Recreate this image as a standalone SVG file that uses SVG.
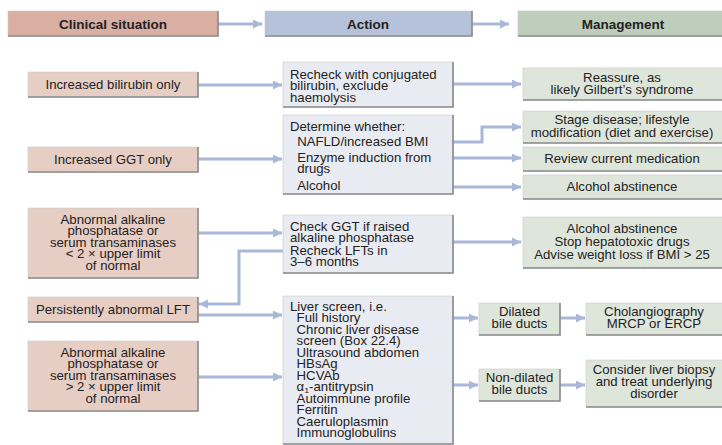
<svg xmlns="http://www.w3.org/2000/svg" width="722" height="445" viewBox="0 0 722 445">
<defs>
<marker id="ah" markerUnits="userSpaceOnUse" markerWidth="10" markerHeight="10" refX="9" refY="4.5" orient="auto">
<path d="M0,0 L9,4.5 L0,9 z" fill="#a9b8d8"/>
</marker>
</defs>
<style>
text{font-family:"Liberation Sans",Arial,sans-serif;font-size:12px;fill:#222}
.hd{font-weight:bold;font-size:13.5px;text-anchor:middle}
.c{text-anchor:middle}
.bx{stroke:#c9c9c9;stroke-width:0.6}
.sh{fill:none;stroke:#8a8a8a;stroke-width:1.6}
.cl{fill:#e7cec5}.clh{fill:#d9aea3}
.ac{fill:#e9ebf2}.ach{fill:#b5c2da}
.mg{fill:#dee6dc}.mgh{fill:#bfcdbb}
.ar{fill:none;stroke:#a9b8d8;stroke-width:3;marker-end:url(#ah)}
</style>
<rect width="722" height="445" fill="#ffffff"/>

<g id="connectors">
<path class="ar" d="M218,24 H262"/>
<path class="ar" d="M472,24 H509"/>
<path class="ar" d="M198,85 H282"/>
<path class="ar" d="M453,84 H521"/>
<path class="ar" d="M198,159 H282"/>
<path class="ar" d="M434,142 H482 V127 H521"/>
<path class="ar" d="M436,158 H521"/>
<path class="ar" d="M347,187 H521"/>
<path class="ar" d="M198,233 H282"/>
<path class="ar" d="M453,242 H521"/>
<path class="ar" d="M289,251 H239 V304 H199"/>
<path class="ar" d="M198,315 H282"/>
<path class="ar" d="M198,377 H282"/>
<path class="ar" d="M453,318 H478"/>
<path class="ar" d="M453,385 H478"/>
<path class="ar" d="M560,318 H585"/>
<path class="ar" d="M560,385 H585"/>
</g>

<g id="h-clinical">
<rect class="bx clh" x="8" y="11" width="210" height="25"/>
<path class="sh" d="M8,36 H218 V11"/>
<text class="hd" x="113" y="28.5">Clinical situation</text>
</g>
<g id="h-action">
<rect class="bx ach" x="265" y="11" width="207" height="25"/>
<path class="sh" d="M265,36 H472 V11"/>
<text class="hd" x="368" y="28.5">Action</text>
</g>
<g id="h-management">
<rect class="bx mgh" x="518" y="11" width="210" height="25"/>
<path class="sh" d="M518,36 H728"/>
<text class="hd" x="623" y="28.5">Management</text>
</g>

<g id="c-bilirubin">
<rect class="bx cl" x="28" y="72" width="170" height="25"/>
<path class="sh" d="M28,97 H198 V72"/>
<g transform="matrix(1.1,0,0,1,-11.3,0)">
<text class="c" x="113" y="89">Increased bilirubin only</text>
</g>
</g>
<g id="a-recheck">
<rect class="bx ac" x="283" y="62" width="170" height="45"/>
<path class="sh" d="M283,107 H453 V62"/>
<g transform="matrix(1.1,0,0,1,-29,0)">
<text x="290" y="79">Recheck with conjugated</text>
<text x="290" y="90.5">bilirubin, exclude</text>
<text x="290" y="102">haemolysis</text>
</g>
</g>
<g id="m-reassure">
<rect class="bx mg" x="523" y="68" width="205" height="32"/>
<path class="sh" d="M523,100 H728"/>
<g transform="matrix(1.1,0,0,1,-62.2,0)">
<text class="c" x="622" y="82">Reassure, as</text>
<text class="c" x="622" y="94">likely Gilbert’s syndrome</text>
</g>
</g>

<g id="c-ggt">
<rect class="bx cl" x="28" y="147" width="170" height="25"/>
<path class="sh" d="M28,172 H198 V147"/>
<g transform="matrix(1.1,0,0,1,-11.3,0)">
<text class="c" x="113" y="164">Increased GGT only</text>
</g>
</g>
<g id="a-determine">
<rect class="bx ac" x="283" y="115" width="170" height="79"/>
<path class="sh" d="M283,194 H453 V115"/>
<g transform="matrix(1.1,0,0,1,-29,0)">
<text x="290" y="131">Determine whether:</text>
<text x="296.5" y="146.5">NAFLD/increased BMI</text>
<text x="296.5" y="162">Enzyme induction from</text>
<text x="296.5" y="173">drugs</text>
<text x="296.5" y="190">Alcohol</text>
</g>
</g>
<g id="m-stage">
<rect class="bx mg" x="523" y="111" width="205" height="32"/>
<path class="sh" d="M523,143 H728"/>
<g transform="matrix(1.1,0,0,1,-62.2,0)">
<text class="c" x="622" y="124">Stage disease; lifestyle</text>
<text class="c" x="622" y="137">modification (diet and exercise)</text>
</g>
</g>
<g id="m-review">
<rect class="bx mg" x="523" y="147" width="205" height="24"/>
<path class="sh" d="M523,171 H728"/>
<g transform="matrix(1.1,0,0,1,-62.2,0)">
<text class="c" x="622" y="163">Review current medication</text>
</g>
</g>
<g id="m-alcohol">
<rect class="bx mg" x="523" y="175" width="205" height="24"/>
<path class="sh" d="M523,199 H728"/>
<g transform="matrix(1.1,0,0,1,-62.2,0)">
<text class="c" x="622" y="191">Alcohol abstinence</text>
</g>
</g>

<g id="c-lt2">
<rect class="bx cl" x="28" y="208" width="170" height="70"/>
<path class="sh" d="M28,278 H198 V208"/>
<g transform="matrix(1.1,0,0,1,-11.3,0)">
<text class="c" x="113" y="224">Abnormal alkaline</text>
<text class="c" x="113" y="235.5">phosphatase or</text>
<text class="c" x="113" y="247">serum transaminases</text>
<text class="c" x="113" y="258.5">&lt; 2 × upper limit</text>
<text class="c" x="113" y="270">of normal</text>
</g>
</g>
<g id="a-checkggt">
<rect class="bx ac" x="283" y="215" width="170" height="58"/>
<path class="sh" d="M283,273 H453 V215"/>
<g transform="matrix(1.1,0,0,1,-29,0)">
<text x="290" y="231">Check GGT if raised</text>
<text x="290" y="242">alkaline phosphatase</text>
<text x="290" y="255">Recheck LFTs in</text>
<text x="290" y="266">3–6 months</text>
</g>
</g>
<g id="m-advice">
<rect class="bx mg" x="523" y="217" width="205" height="51"/>
<path class="sh" d="M523,268 H728"/>
<g transform="matrix(1.1,0,0,1,-62.2,0)">
<text class="c" x="622" y="233">Alcohol abstinence</text>
<text class="c" x="622" y="246">Stop hepatotoxic drugs</text>
<text class="c" x="622" y="259">Advise weight loss if BMI &gt; 25</text>
</g>
</g>

<g id="c-persistent">
<rect class="bx cl" x="28" y="297" width="170" height="25"/>
<path class="sh" d="M28,322 H198 V297"/>
<g transform="matrix(1.1,0,0,1,-11.3,0)">
<text class="c" x="113" y="314">Persistently abnormal LFT</text>
</g>
</g>
<g id="c-gt2">
<rect class="bx cl" x="28" y="341" width="170" height="70"/>
<path class="sh" d="M28,411 H198 V341"/>
<g transform="matrix(1.1,0,0,1,-11.3,0)">
<text class="c" x="113" y="357">Abnormal alkaline</text>
<text class="c" x="113" y="368.5">phosphatase or</text>
<text class="c" x="113" y="380">serum transaminases</text>
<text class="c" x="113" y="391.5">&gt; 2 × upper limit</text>
<text class="c" x="113" y="403">of normal</text>
</g>
</g>
<g id="a-liverscreen">
<rect class="bx ac" x="283" y="296" width="170" height="148"/>
<path class="sh" d="M283,444 H453 V296"/>
<g transform="matrix(1.1,0,0,1,-29,0)">
<text x="290" y="311">Liver screen, i.e.</text>
<text x="296" y="322.5">Full history</text>
<text x="296" y="334">Chronic liver disease</text>
<text x="296" y="345.5">screen (Box 22.4)</text>
<text x="296" y="357">Ultrasound abdomen</text>
<text x="296" y="368.5">HBsAg</text>
<text x="296" y="380">HCVAb</text>
<text x="296" y="391.5">α<tspan font-size="8" dy="2">1</tspan><tspan dy="-2">-antitrypsin</tspan></text>
<text x="296" y="403">Autoimmune profile</text>
<text x="296" y="414.5">Ferritin</text>
<text x="296" y="426">Caeruloplasmin</text>
<text x="296" y="437.5">Immunoglobulins</text>
</g>
</g>
<g id="m-dilated">
<rect class="bx mg" x="479" y="303" width="81" height="32"/>
<path class="sh" d="M479,335 H560 V303"/>
<g transform="matrix(1.1,0,0,1,-51.95,0)">
<text class="c" x="519.5" y="316">Dilated</text>
<text class="c" x="519.5" y="328">bile ducts</text>
</g>
</g>
<g id="m-cholangio">
<rect class="bx mg" x="586" y="303" width="142" height="32"/>
<path class="sh" d="M586,335 H728"/>
<g transform="matrix(1.1,0,0,1,-65.4,0)">
<text class="c" x="654" y="316">Cholangiography</text>
<text class="c" x="654" y="328">MRCP or ERCP</text>
</g>
</g>
<g id="m-nondilated">
<rect class="bx mg" x="479" y="369" width="81" height="32"/>
<path class="sh" d="M479,401 H560 V369"/>
<g transform="matrix(1.1,0,0,1,-51.95,0)">
<text class="c" x="519.5" y="382">Non-dilated</text>
<text class="c" x="519.5" y="394">bile ducts</text>
</g>
</g>
<g id="m-biopsy">
<rect class="bx mg" x="586" y="360" width="142" height="47"/>
<path class="sh" d="M586,407 H728"/>
<g transform="matrix(1.1,0,0,1,-65.4,0)">
<text class="c" x="654" y="374">Consider liver biopsy</text>
<text class="c" x="654" y="386">and treat underlying</text>
<text class="c" x="654" y="398">disorder</text>
</g>
</g>
</svg>
